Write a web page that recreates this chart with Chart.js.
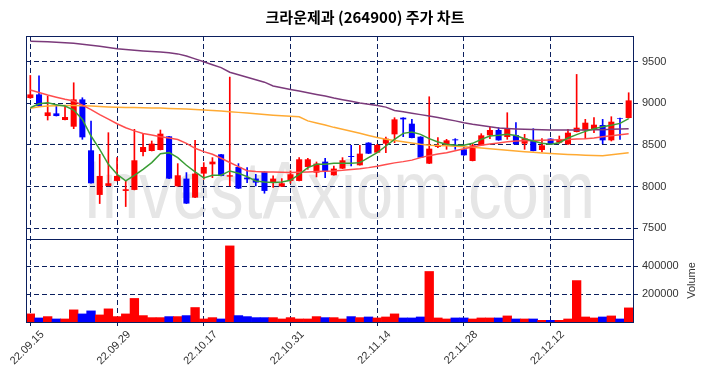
<!DOCTYPE html>
<html><head><meta charset="utf-8">
<script src="https://cdn.jsdelivr.net/npm/chart.js@4.4.1/dist/chart.umd.min.js"></script>
<style>html,body{margin:0;padding:0;background:#fff;}#wrap{width:704px;height:378px;}</style>
</head><body><div id="wrap"><canvas id="c" width="704" height="378"></canvas></div>
<script>
const titleText = '크라운제과 (264900) 주가 차트';
const watermarkText = 'InvestAxiom.com';
const volumeLabel = 'Volume';

const dates = ['22.09.15','22.09.16','22.09.19','22.09.20','22.09.21','22.09.22','22.09.23','22.09.26','22.09.27','22.09.28',
'22.09.29','22.09.30','22.10.04','22.10.05','22.10.06','22.10.07','22.10.11','22.10.12','22.10.13','22.10.14',
'22.10.17','22.10.18','22.10.19','22.10.20','22.10.21','22.10.24','22.10.25','22.10.26','22.10.27','22.10.28',
'22.10.31','22.11.01','22.11.02','22.11.03','22.11.04','22.11.07','22.11.08','22.11.09','22.11.10','22.11.11',
'22.11.14','22.11.15','22.11.16','22.11.17','22.11.18','22.11.21','22.11.22','22.11.23','22.11.24','22.11.25',
'22.11.28','22.11.29','22.11.30','22.12.01','22.12.02','22.12.05','22.12.06','22.12.07','22.12.08','22.12.09',
'22.12.12','22.12.13','22.12.14','22.12.15','22.12.16','22.12.19','22.12.20','22.12.21','22.12.22','22.12.23'];
const xTickLabels = ['22.09.15','22.09.29','22.10.17','22.10.31','22.11.14','22.11.28','22.12.12'];
const priceTicks = [7500, 8000, 8500, 9000, 9500];
const volumeTicks = [200000, 400000];

const openP  = [9064,9108,8848,8880,8800,8720,9048,8436,7900,8008, 8068,7948,7960,8416,8428,8440,8604,8004,8096,7868,
8156,8268,8388,8120,8236,8108,8096,8180,8048,8000, 8068,8068,8236,8168,8300,8136,8216,8368,8256,8528,
8408,8516,8628,8828,8756,8600,8276,8476,8496,8568, 8448,8308,8496,8616,8680,8596,8620,8516,8556,8440,
8576,8528,8508,8656,8676,8688,8740,8556,8824,8824];
const highP  = [9336,9330,9088,8988,8976,9248,9068,8788,8388,8648, 8348,8068,8688,8628,8548,8680,8604,8276,8168,8556,
8288,8348,8388,9316,8276,8228,8148,8180,8128,8096, 8188,8348,8340,8296,8340,8248,8348,8496,8496,8528,
8508,8596,8828,8828,8808,8600,9080,8588,8568,8576, 8488,8516,8636,8720,8708,8888,8768,8628,8696,8576,
8576,8608,8688,9348,8808,8828,8808,8840,8824,9128];
const lowP   = [9060,8960,8800,8848,8800,8696,8568,8040,7796,8008, 8068,7760,7960,8368,8428,8440,8096,8004,7796,7868,
8088,8108,8128,8008,7976,8048,8008,7920,7990,8000, 8040,8068,8208,8116,8108,8136,8216,8248,8256,8396,
8408,8408,8528,8600,8584,8348,8276,8468,8448,8448, 8376,8308,8496,8576,8556,8568,8508,8448,8428,8416,
8508,8520,8508,8656,8576,8648,8516,8548,8568,8824];
const closeP = [9108,8968,8892,8848,8836,9048,8592,8040,8128,8040, 8128,7968,8316,8476,8516,8636,8096,8136,7796,8156,
8236,8300,8128,8136,7976,8088,8048,7948,8096,8040, 8148,8328,8328,8276,8188,8216,8316,8356,8396,8396,
8500,8576,8808,8808,8584,8348,8456,8496,8556,8556, 8376,8496,8616,8680,8556,8696,8508,8580,8428,8496,
8508,8560,8648,8708,8768,8744,8556,8780,8816,9036];
const volume = [58000,29000,38600,21700,21700,86800,57800,79500,50600,94000, 38600,57800,168700,45800,31300,31300,38600,38600,45800,103600,
21700,31300,21700,544700,45800,38600,31300,31300,31300,21700, 31300,21700,21700,38600,31300,31300,21700,38600,31300,36000,
29000,36000,58000,29000,29000,36000,361500,29000,21700,29000, 29000,21700,29000,29000,29000,43400,21700,21700,21700,12000,
12000,12000,21700,296400,36000,29000,36000,43400,21700,101000];
const ma5 = [8948,8996,9008,8984,8968,8920,8808,8608,8448,8268, 8148,8068,8136,8208,8288,8396,8408,8348,8256,8176,
8104,8136,8136,8188,8160,8120,8068,8056,8050,8056, 8076,8148,8228,8268,8268,8280,8280,8280,8288,8348,
8408,8488,8568,8640,8656,8628,8576,8536,8508,8496, 8496,8520,8568,8608,8616,8628,8615,8576,8548,8520,
8508,8528,8584,8624,8664,8696,8720,8736,8760,8816];
const ma20 = [9160,9130,9100,9075,9050,9030,8980,8925,8865,8810, 8755,8708,8670,8638,8620,8600,8585,8565,8520,8460,
8420,8388,8340,8290,8240,8190,8180,8176,8175,8172, 8168,8172,8176,8180,8185,8188,8195,8205,8215,8228,
8245,8265,8285,8300,8318,8348,8372,8392,8408,8432, 8456,8476,8496,8512,8525,8538,8548,8550,8553,8556,
8560,8563,8567,8572,8576,8585,8598,8610,8622,8636];
const ma60 = [8940,8960,8968,8972,8975,8975,8972,8968,8962,8958, 8955,8952,8950,8948,8946,8944,8940,8936,8932,8928,
8922,8915,8908,8900,8892,8885,8876,8866,8858,8852, 8846,8840,8790,8765,8740,8712,8688,8665,8640,8615,
8590,8570,8555,8540,8525,8510,8498,8494,8490,8486, 8480,8472,8465,8455,8445,8436,8428,8420,8412,8405,
8398,8392,8387,8382,8378,8374,8370,8382,8395,8408];
const ma120 = [9748,9745,9740,9735,9730,9722,9712,9700,9688,9672, 9658,9648,9638,9630,9624,9618,9610,9595,9570,9535,
9500,9465,9430,9375,9345,9315,9285,9255,9210,9188, 9168,9150,9128,9108,9088,9065,9045,9025,9005,8990,
8975,8955,8915,8900,8882,8865,8848,8830,8810,8790, 8768,8750,8735,8718,8705,8698,8692,8688,8685,8682,
8680,8680,8680,8680,8680,8682,8684,8688,8692,8696];

const UP = '#ff0000', DOWN = '#0000ff', NAVY = '#0b1f5e';
const candleColors = closeP.map((c, i) => c >= openP[i] ? UP : DOWN);
const bodies = openP.map((o, i) => [o, closeP[i]]);
const wicks = lowP.map((l, i) => [l, highP[i]]);
const tickIdx = xTickLabels.map(l => dates.indexOf(l));

const gridOpts = { display: true, color: NAVY, lineWidth: 1, drawTicks: true, tickLength: 5, tickColor: NAVY, tickBorderDash: [] };
const tickFont = { family: '"Liberation Sans", Arial, sans-serif', size: 11 };

const decor = {
  id: 'decor',
  beforeDraw(chart) {
    const ctx = chart.ctx;
    ctx.save();
    ctx.fillStyle = '#ffffff';
    ctx.fillRect(0, 0, chart.width, chart.height);
    ctx.fillStyle = '#e6e6e6';
    ctx.font = '82px "Liberation Sans", Arial, sans-serif';
    ctx.textAlign = 'left';
    ctx.textBaseline = 'alphabetic';
    ctx.fillText(watermarkText, 83, 218, 512);
    ctx.restore();
  },
  afterDraw(chart) {
    const ctx = chart.ctx, a = chart.chartArea, ys = chart.scales.y, yv = chart.scales.yv;
    ctx.save();
    ctx.strokeStyle = NAVY;
    ctx.lineWidth = 1;
    ctx.setLineDash([]);
    ctx.strokeRect(Math.round(a.left) + 0.5, Math.round(a.top) + 0.5, Math.round(a.right - a.left), Math.round(a.bottom - a.top));
    const sy = Math.round(ys.bottom) + 0.5;
    ctx.beginPath(); ctx.moveTo(a.left, sy); ctx.lineTo(a.right, sy); ctx.stroke();
    ctx.fillStyle = '#333';
    ctx.font = '11px "Liberation Sans", Arial, sans-serif';
    ctx.textAlign = 'center';
    ctx.textBaseline = 'middle';
    ctx.translate(692, (yv.top + yv.bottom) / 2);
    ctx.rotate(-Math.PI / 2);
    ctx.fillText(volumeLabel, 0, 0);
    ctx.restore();
  }
};

const lineDs = (data, color) => ({ type: 'line', data, borderColor: color, borderWidth: 1.5, pointRadius: 0, fill: false, tension: 0, yAxisID: 'y', order: 0 });

new Chart(document.getElementById('c'), {
  data: {
    labels: dates,
    datasets: [
      lineDs(ma5, '#3a9d35'),
      lineDs(ma20, '#ff4d4d'),
      lineDs(ma60, '#ffaa33'),
      lineDs(ma120, '#7b3a7b'),
      { type: 'bar', data: bodies, backgroundColor: candleColors, borderWidth: 0, grouped: false, barPercentage: 0.7, categoryPercentage: 1, yAxisID: 'y', order: 1 },
      { type: 'bar', data: wicks, backgroundColor: candleColors, borderWidth: 0, grouped: false, barThickness: 1, yAxisID: 'y', order: 2 },
      { type: 'bar', data: volume, backgroundColor: candleColors, borderWidth: 0, grouped: false, barPercentage: 1, categoryPercentage: 1, yAxisID: 'yv', order: 3 }
    ]
  },
  options: {
    responsive: false, animation: false, devicePixelRatio: 1,
    layout: { padding: { left: 26, right: 0, top: 0, bottom: 0 } },
    plugins: {
      legend: { display: false }, tooltip: { enabled: false },
      title: { display: true, text: titleText, color: '#000', font: { family: '"Noto Sans CJK KR", sans-serif', size: 15, weight: 'bold' }, padding: { top: 8, bottom: 10 } }
    },
    scales: {
      x: {
        type: 'category', offset: true,
        grid: Object.assign({}, gridOpts, { offset: false, tickLength: 4 }),
        border: { display: false, dash: [5, 3] },
        ticks: { autoSkip: false, minRotation: 45, maxRotation: 45, labelOffset: 12, padding: 2, color: '#333', font: tickFont },
        afterBuildTicks(scale) { scale.ticks = tickIdx.map(v => ({ value: v })); },
        afterFit(scale) { scale.height = 56; scale.paddingLeft = 0; scale.paddingRight = 0; }
      },
      y: {
        position: 'right', stack: 'panes', stackWeight: 2.446, min: 7370, max: 9810,
        grid: gridOpts, border: { display: false, dash: [5, 3] },
        ticks: { padding: 4, color: '#333', font: tickFont, callback: v => String(v) },
        afterBuildTicks(scale) { scale.ticks = priceTicks.map(v => ({ value: v })); },
        afterFit(scale) { scale.width = 71; scale.paddingTop = 0; scale.paddingBottom = 0; }
      },
      yv: {
        position: 'right', stack: 'panes', stackWeight: 1, min: 0, max: 594000,
        grid: gridOpts, border: { display: false, dash: [5, 3] },
        ticks: { padding: 4, color: '#333', font: tickFont, callback: v => String(v) },
        afterBuildTicks(scale) { scale.ticks = volumeTicks.map(v => ({ value: v })); },
        afterFit(scale) { scale.width = 71; scale.paddingTop = 0; scale.paddingBottom = 0; }
      }
    }
  },
  plugins: [decor]
});
</script></body></html>
